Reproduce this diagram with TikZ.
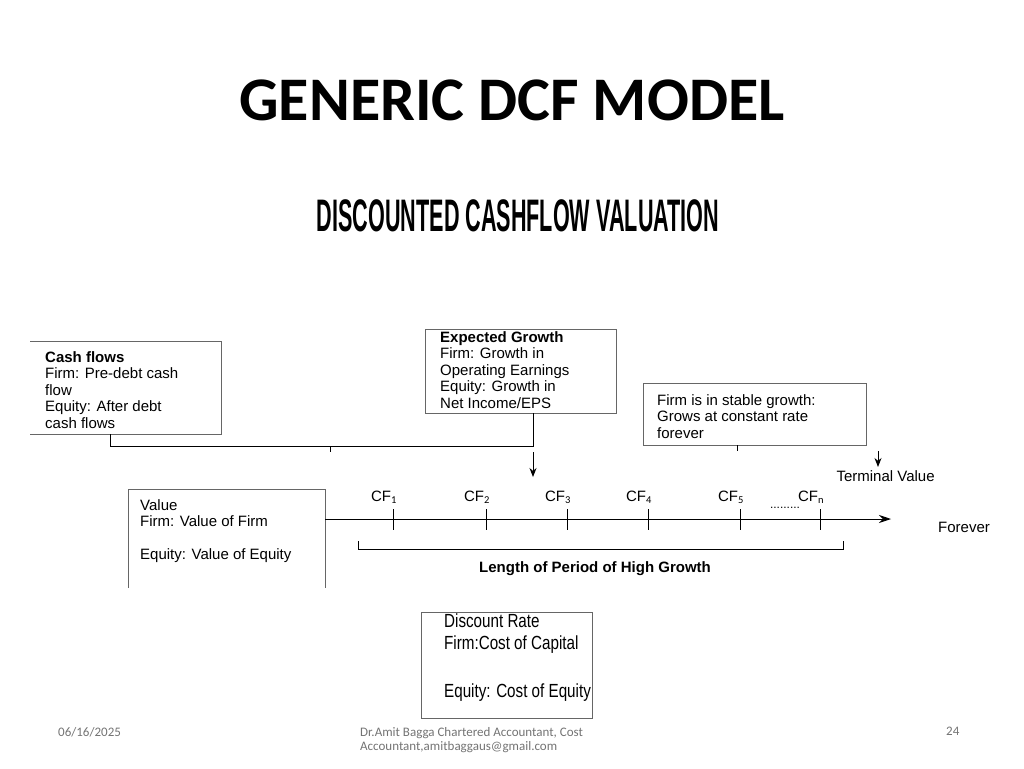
\documentclass[tikz,border=0pt]{standalone}
\usepackage{fontspec}
\setmainfont{Carlito}
\newfontfamily\arialfont{Liberation Sans}
\usetikzlibrary{arrows.meta,positioning}
\tikzset{
  box/.style={draw=black!60, line width=0.9pt},
  lbl/.style={font=\arialfont\fontsize{15}{16.5}\selectfont, anchor=north west, inner sep=0pt, align=left},
  tick/.style={line width=0.9pt},
  foot/.style={font=\fontsize{13}{14}\selectfont, text=black!55, anchor=north west, inner sep=0pt, align=left}
}
\begin{document}
\begin{tikzpicture}[x=1pt,y=-1pt]
    \useasboundingbox (0,0) rectangle (1024,768);
    % Titles
    \node (title) at (512,100) {\fontsize{62}{66}\selectfont\bfseries GENERIC DCF MODEL};
    \node[font=\arialfont\bfseries\fontsize{48}{50}\selectfont, xscale=0.45, yscale=0.95] (sub) at (518,216) {DISCOUNTED CASHFLOW VALUATION};

    % Boxes
    \draw[box] (30,341) -- (221,341) -- (221,434) -- (30,434);
    \node[lbl] (cash) at (45,351) {\textbf{Cash flows}\\Firm: Pre-debt cash\\flow\\Equity: After debt\\cash flows};
    \draw[box] (425,329) rectangle (616,413);
    \node[lbl] (growth) at (440,331) {\textbf{Expected Growth}\\Firm: Growth in\\Operating Earnings\\Equity: Growth in\\Net Income/EPS};
    \draw[box] (643,383) rectangle (866,445);
    \node[lbl] (stable) at (657,394) {Firm is in stable growth:\\Grows at constant rate\\forever};
    \draw[box] (128,588) -- (128,489) -- (325,489) -- (325,588);
    \node[lbl] (value) at (140,499) {Value\\Firm: Value of Firm\\[16.5pt]Equity: Value of Equity};
    \draw[box] (421,612) rectangle (592,718);
    \node[lbl, font=\arialfont\fontsize{19}{22}\selectfont, xscale=0.8] (rate) at (444,614) {Discount Rate\\Firm:Cost of Capital\\[26pt]Equity: Cost of Equity};

    % Connectors
    \coordinate (join) at (533,446);
    \draw[tick] (110,434) -- (110,446) -- (join) -- (533,413);
    \draw[tick] (330,446) -- (330,452);
    \draw[tick, -{Stealth[length=9pt,width=7pt]}] (533,452) -- (533,477);
    \draw[tick] (737,445) -- (737,451);
    \node[font=\arialfont\fontsize{15}{16}\selectfont, anchor=west] (term) at (833,476) {Terminal Value};
    \draw[tick, -{Stealth[length=9pt,width=7pt]}] (878,451) -- (term.north -| 878,0);

    % Timeline
    \coordinate (start) at (325,519);
    \coordinate (end) at (891,519);
    \draw[tick, -{Stealth[length=12pt,width=8pt]}] (start) -- (end);
    \foreach \x/\t in {393/1,486/2,567/3,648/4,740/5,820/n} {
      \draw[tick] (\x,509) -- (\x,530);
      \node[anchor=base, font=\arialfont\fontsize{15}{16}\selectfont] (cf\t) at (\x-9,501) {CF$_{\mathrm{\t}}$};
    }
    \node[font=\arialfont\fontsize{12}{12}\selectfont] (dots) at (785,508) {.........};
    \node[font=\arialfont\fontsize{15}{16}\selectfont] (forever) at (964,527) {Forever};
    \draw[tick] (358,541) -- (358,549) -- (843,549) -- (843,541);
    \node[font=\arialfont\bfseries\fontsize{15}{16}\selectfont] (length) at (595,569) {Length of Period of High Growth};

    % Footer
    \node[foot] (date) at (58,727) {06/16/2025};
    \node[foot] (author) at (360,727) {Dr.Amit Bagga Chartered Accountant, Cost\\Accountant,amitbaggaus@gmail.com};
    \node[foot] (page) at (946,727) {24};
\end{tikzpicture}
\end{document}
